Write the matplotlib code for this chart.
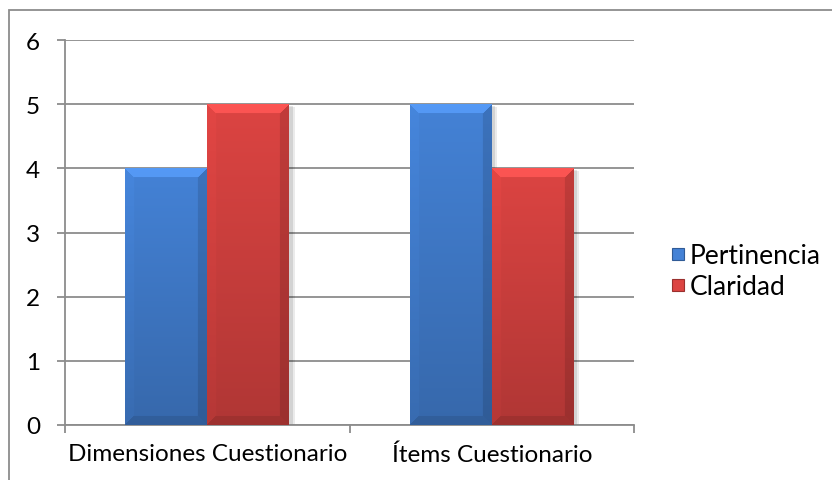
import numpy as np
import matplotlib
matplotlib.use("Agg")
import matplotlib.pyplot as plt
from matplotlib.patches import Rectangle
from matplotlib.legend_handler import HandlerBase

categories = ["Dimensiones Cuestionario", "Ítems Cuestionario"]
series_names = ["Pertinencia", "Claridad"]
pertinencia = [4, 5]
claridad = [5, 4]
y_ticks = [0, 1, 2, 3, 4, 5, 6]

BLUE = np.array([0x44, 0x82, 0xd6]) / 255.0
RED = np.array([0xdc, 0x44, 0x42]) / 255.0

plt.rcParams["font.family"] = ["Lato", "DejaVu Sans"]

W, H, DPI = 832, 481, 100
fig = plt.figure(figsize=(W / DPI, H / DPI), dpi=DPI)

# outer chart frame
fig.patches.append(Rectangle((9 / W, -0.05), 1.0, 1 - 11 / H + 0.05,
                             transform=fig.transFigure, fill=False,
                             edgecolor="#8c8c8c", linewidth=1.3))

ax = fig.add_axes([65 / W, 1 - 426 / H, (634 - 65) / W, (426 - 41) / H])
ax.set_xlim(-0.5, 1.5)
ax.set_ylim(0, 6)


def bevel_image(color, wpx, hpx, b=9):
    """Bar face with a soft bevel: light top, slightly darker sides/bottom."""
    wpx, hpx = max(int(wpx), 2), max(int(hpx), 2)
    rows = np.arange(hpx)[:, None] * np.ones((1, wpx))
    cols = np.ones((hpx, 1)) * np.arange(wpx)[None, :]
    shade = 1.0 - 0.2 * rows / hpx
    img = color[None, None, :] * shade[:, :, None]
    top = (rows < b) & (cols >= rows) & (cols < wpx - rows)
    bottom = (rows >= hpx - b) & (cols >= hpx - 1 - rows) & (cols < wpx - (hpx - 1 - rows))
    left = (cols < b) & ~top & ~bottom
    right = (cols >= wpx - b) & ~top & ~bottom
    img[top] = np.clip(img[top] * 1.1 + 0.04, 0, 1)
    img[left] = np.clip(img[left] * 1.03, 0, 1)
    img[right] = img[right] * 0.88
    img[bottom] = img[bottom] * 0.9
    return np.clip(img, 0, 1)


x = np.arange(len(categories))
bw = 0.288
px_per_x = (634 - 65) / 2.0
px_per_y = (426 - 41) / 6.0

for offs, vals, col in [(-bw / 2, pertinencia, BLUE), (bw / 2, claridad, RED)]:
    for xi, v in zip(x, vals):
        x0, x1 = xi + offs - bw / 2, xi + offs + bw / 2
        # soft drop shadow
        for k, a in [(0.02, 0.08), (0.012, 0.10)]:
            ax.add_patch(Rectangle((x0 + k, 0), bw, v - k * 2, facecolor="black",
                                   alpha=a, edgecolor="none", zorder=2))
        img = bevel_image(col, bw * px_per_x, v * px_per_y)
        ax.imshow(img, extent=(x0, x1, 0, v), aspect="auto",
                  interpolation="bilinear", zorder=3)

ax.set_xlim(-0.5, 1.5)
ax.set_ylim(0, 6)

ax.set_yticks(y_ticks)
ax.yaxis.grid(True, color="#8c8c8c", linewidth=1.3)
ax.set_axisbelow(True)
ax.set_xticks(x)
ax.set_xticklabels(categories)
ax.set_xticks([-0.5, 0.5, 1.5], minor=True)
ax.tick_params(axis="x", which="major", length=0, pad=13, labelsize=17.5)
ax.tick_params(axis="x", which="minor", length=6, color="#8c8c8c", width=1.3)
ax.tick_params(axis="y", length=6, color="#8c8c8c", width=1.3, pad=12, labelsize=17.5)

for s in ["top", "right"]:
    ax.spines[s].set_visible(False)
for s in ["left", "bottom"]:
    ax.spines[s].set_color("#8c8c8c")
    ax.spines[s].set_linewidth(1.3)


class BevelSquare(HandlerBase):
    def create_artists(self, legend, orig, xd, yd, width, height, fontsize, trans):
        c = orig.get_facecolor()[:3]
        s = 12 * 72 / DPI
        r = Rectangle((xd + width - s, yd + (height - s) / 2), s, s, facecolor=c,
                      edgecolor=tuple(np.array(c) * 0.7), linewidth=0.8, transform=trans)
        return [r]


handles = [Rectangle((0, 0), 1, 1, facecolor=BLUE), Rectangle((0, 0), 1, 1, facecolor=RED)]
fig.legend(handles, series_names, handler_map={Rectangle: BevelSquare()},
           loc="center left", bbox_to_anchor=(672 / W, 1 - 272 / H),
           frameon=False, fontsize=19, handlelength=0.46, handletextpad=0.2,
           labelspacing=0.22, borderpad=0, borderaxespad=0)

fig.savefig("out.png", dpi=DPI)
